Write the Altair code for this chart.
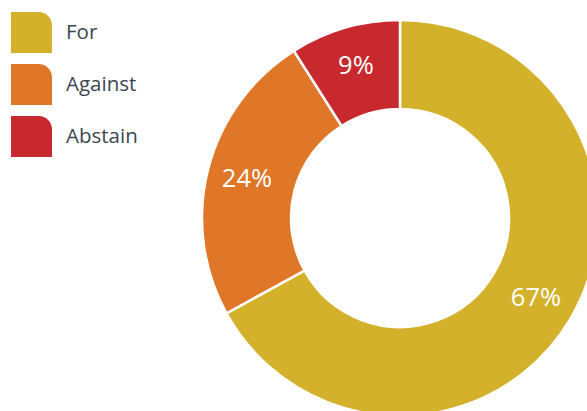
import altair as alt
import pandas as pd

categories = ["For", "Against", "Abstain"]
values = [67, 24, 9]
labels = ["67%", "24%", "9%"]
colors = ["#D3B12A", "#E07628", "#C7292F"]

df = pd.DataFrame({
    "cat": categories,
    "value": values,
    "label": labels,
    "idx": list(range(len(categories))),
})

leaf = "M-1,-1H0.35A0.65,0.65,0,0,1,1,-0.35V1H-1Z"

base = alt.Chart(df).encode(
    theta=alt.Theta("value:Q", stack=True),
    order=alt.Order("idx:Q"),
)

arc = base.mark_arc(
    innerRadius=109, outerRadius=198, stroke="white", strokeWidth=2.5,
    x=400, y=218,
).encode(
    color=alt.Color(
        "cat:N",
        sort=categories,
        scale=alt.Scale(domain=categories, range=colors),
        legend=alt.Legend(
            title=None,
            orient="none",
            legendX=11,
            legendY=12,
            symbolType=leaf,
            symbolSize=1681,
            symbolStrokeWidth=0,
            symbolOpacity=1,
            labelFont="Open Sans",
            labelFontSize=20.5,
            labelColor="#3B4650",
            labelOffset=14,
            rowPadding=11,
            padding=0,
        ),
    )
)

text = base.mark_text(
    radius=158, x=400, y=218, font="Open Sans", fontSize=25.5,
    color="white", baseline="middle", align="center",
).encode(text="label:N")

chart = (
    alt.layer(arc, text)
    .properties(width=587, height=411, padding=0, autosize="none")
    .configure_view(stroke=None)
    .configure(background="white")
)

chart.save("out.html", embed_options={"renderer": "svg", "actions": False})
